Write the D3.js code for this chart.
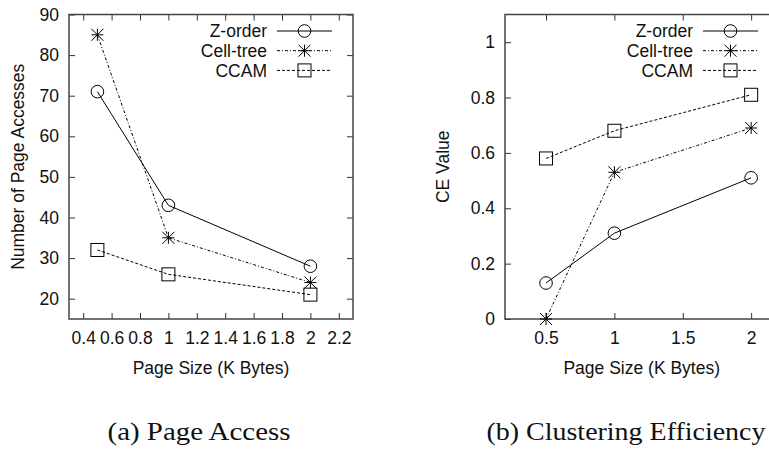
<!DOCTYPE html>
<html>
<head>
<meta charset="utf-8">
<script src="https://cdn.jsdelivr.net/npm/d3@7"></script>
<style>
  body { margin: 0; background: #fff; }
  svg { display: block; }
  .tick-label, .legend-label, .axis-title { font-family: "Liberation Sans", Arial, sans-serif; font-size: 17.5px; fill: #111; }
  .caption { font-family: "Liberation Serif", "DejaVu Serif", serif; font-size: 26px; fill: #111; }
</style>
</head>
<body>
<div id="chart"></div>
<script>
// data
const pageSizes = [0.5, 1, 2];
const seriesNames = ["Z-order", "Cell-tree", "CCAM"];

const accessZorder = [71, 43, 28];
const accessCelltree = [85, 35, 24];
const accessCcam = [32, 26, 21];

const ceZorder = [0.13, 0.31, 0.51];
const ceCelltree = [0, 0.53, 0.69];
const ceCcam = [0.58, 0.68, 0.81];

const accessXTicks = [0.4, 0.6, 0.8, 1, 1.2, 1.4, 1.6, 1.8, 2, 2.2];
const accessYTicks = [20, 30, 40, 50, 60, 70, 80, 90];
const ceXTicks = [0.5, 1, 1.5, 2];
const ceYTicks = [0, 0.2, 0.4, 0.6, 0.8, 1];

const width = 769, height = 452;

const svg = d3.select("#chart").append("svg")
    .attr("width", width)
    .attr("height", height);

// line style per series
const dashes = ["none", "3,2,1,2", "3,2"];

function drawMarker(g, type, x, y) {
    if (type === 0) {
        g.append("circle").attr("cx", x).attr("cy", y).attr("r", 6.3)
            .attr("fill", "none").attr("stroke", "#000").attr("stroke-width", 1);
    } else if (type === 1) {
        const s = 6;
        const d = `M${x - s},${y}L${x + s},${y}M${x},${y - s}L${x},${y + s}` +
                  `M${x - s},${y - s}L${x + s},${y + s}M${x - s},${y + s}L${x + s},${y - s}`;
        g.append("path").attr("d", d).attr("stroke", "#000").attr("stroke-width", 1).attr("fill", "none");
    } else {
        g.append("rect").attr("x", x - 6.5).attr("y", y - 6.5).attr("width", 13).attr("height", 13)
            .attr("fill", "none").attr("stroke", "#000").attr("stroke-width", 1);
    }
}

function drawPanel(opts) {
    const x = d3.scaleLinear().domain(opts.xDomain).range([opts.left, opts.right]);
    const y = d3.scaleLinear().domain(opts.yDomain).range([opts.bottom, opts.top]);
    const g = svg.append("g");
    const tickLen = 6;

    // ticks on all four sides, pointing in
    g.append("g").attr("transform", `translate(0,${opts.bottom})`)
        .call(d3.axisBottom(x).tickValues(opts.xTicks).tickSizeInner(-tickLen).tickSizeOuter(0).tickFormat(d3.format("")))
        .call(a => a.select(".domain").remove())
        .call(a => a.selectAll("line").attr("stroke", "#333"))
        .call(a => a.selectAll("text").attr("class", "tick-label").attr("y", 12.5).attr("dy", "0.71em").attr("font-size", null).attr("font-family", null));
    g.append("g").attr("transform", `translate(0,${opts.top})`)
        .call(d3.axisTop(x).tickValues(opts.xTicks).tickSizeInner(-tickLen).tickSizeOuter(0).tickFormat(""))
        .call(a => a.select(".domain").remove())
        .call(a => a.selectAll("line").attr("stroke", "#333"));
    g.append("g").attr("transform", `translate(${opts.left},0)`)
        .call(d3.axisLeft(y).tickValues(opts.yTicks).tickSizeInner(-tickLen).tickSizeOuter(0).tickFormat(d3.format("")))
        .call(a => a.select(".domain").remove())
        .call(a => a.selectAll("line").attr("stroke", "#333"))
        .call(a => a.selectAll("text").attr("class", "tick-label").attr("x", -10).attr("font-size", null).attr("font-family", null));
    g.append("g").attr("transform", `translate(${opts.right},0)`)
        .call(d3.axisRight(y).tickValues(opts.yTicks).tickSizeInner(-tickLen).tickSizeOuter(0).tickFormat(""))
        .call(a => a.select(".domain").remove())
        .call(a => a.selectAll("line").attr("stroke", "#333"));

    g.append("rect")
        .attr("x", opts.left).attr("y", opts.top)
        .attr("width", opts.right - opts.left).attr("height", opts.bottom - opts.top)
        .attr("fill", "none").attr("stroke", "#444").attr("stroke-width", 1.5);

    // series
    const line = d3.line().x(d => x(d[0])).y(d => y(d[1]));
    opts.series.forEach((vals, i) => {
        const pts = pageSizes.map((p, j) => [p, vals[j]]);
        g.append("path").attr("d", line(pts))
            .attr("fill", "none").attr("stroke", "#000").attr("stroke-width", 1)
            .attr("stroke-dasharray", dashes[i]);
        pts.forEach(p => drawMarker(g, i, x(p[0]), y(p[1])));
    });

    // legend
    const lg = g.append("g");
    seriesNames.forEach((name, i) => {
        const ly = opts.legendY + i * 19.7;
        lg.append("text").attr("class", "legend-label")
            .attr("x", opts.legendX).attr("y", ly).attr("dy", "0.35em")
            .attr("text-anchor", "end").text(name);
        const x0 = opts.legendX + 10, x1 = opts.legendX + 65;
        lg.append("line").attr("x1", x0).attr("x2", x1).attr("y1", ly).attr("y2", ly)
            .attr("stroke", "#000").attr("stroke-width", 1).attr("stroke-dasharray", dashes[i]);
        drawMarker(lg, i, (x0 + x1) / 2, ly);
    });

    // titles
    g.append("text").attr("class", "axis-title")
        .attr("x", (opts.left + opts.right) / 2).attr("y", 368).attr("dy", "0.35em")
        .attr("text-anchor", "middle").text("Page Size (K Bytes)");
    g.append("text").attr("class", "axis-title")
        .attr("transform", `translate(${opts.yTitleX},${(opts.top + opts.bottom) / 2}) rotate(-90)`)
        .attr("dy", "0.35em").attr("text-anchor", "middle").text(opts.yTitle);
    g.append("text").attr("class", "caption")
        .attr("x", opts.captionX).attr("y", 431).attr("dy", "0.35em")
        .attr("text-anchor", "middle")
        .attr("textLength", opts.captionWidth).attr("lengthAdjust", "spacingAndGlyphs")
        .text(opts.caption);
}

drawPanel({
    left: 69, right: 353, top: 14.5, bottom: 319,
    xDomain: [0.3, 2.3], yDomain: [15, 90],
    xTicks: accessXTicks, yTicks: accessYTicks,
    series: [accessZorder, accessCelltree, accessCcam],
    legendX: 267, legendY: 31,
    yTitle: "Number of Page Accesses", yTitleX: 17.5,
    caption: "(a) Page Access", captionX: 199, captionWidth: 183
});

drawPanel({
    left: 505, right: 778.5, top: 14.5, bottom: 319,
    xDomain: [0.2, 2.2], yDomain: [0, 1.1],
    xTicks: ceXTicks, yTicks: ceYTicks,
    series: [ceZorder, ceCelltree, ceCcam],
    legendX: 693, legendY: 31,
    yTitle: "CE Value", yTitleX: 443,
    caption: "(b) Clustering Efficiency", captionX: 626, captionWidth: 279
});
</script>
</body>
</html>
